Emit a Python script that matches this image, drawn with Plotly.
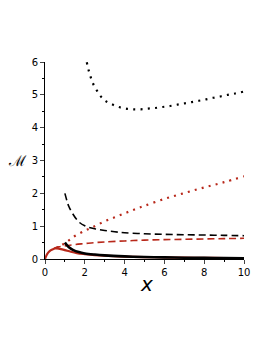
import plotly.graph_objects as go

RED = "#b8281a"

# black dotted
bdot_x = [2.10, 2.18, 2.28, 2.40, 2.58, 2.78, 3.05, 3.37, 3.70, 4.05, 4.42, 4.81, 5.18, 5.54, 5.91,
          6.28, 6.65, 7.02, 7.37, 7.74, 8.09, 8.46, 8.81, 9.18, 9.55, 10.0]
bdot_y = [5.99, 5.78, 5.57, 5.36, 5.16, 4.97, 4.81, 4.71, 4.63, 4.58, 4.56, 4.56, 4.58, 4.60, 4.63,
          4.66, 4.70, 4.74, 4.78, 4.82, 4.86, 4.91, 4.95, 5.00, 5.04, 5.10]

# red dotted
rdot_x = [0.55, 0.8, 1.0, 1.25, 1.5, 2.0, 2.5, 3.0, 3.5, 4.0, 4.5, 5.0, 6.0, 7.0, 8.0, 9.0, 10.0]
rdot_y = [0.33, 0.41, 0.48, 0.59, 0.70, 0.86, 1.00, 1.15, 1.27, 1.39, 1.51, 1.62, 1.83, 2.01, 2.18, 2.34, 2.52]

# black dashed
bdash_x = [1.0, 1.1, 1.2, 1.4, 1.7, 2.0, 2.5, 3.0, 3.5, 4.0, 5.0, 6.0, 7.0, 8.0, 9.0, 10.0]
bdash_y = [2.0, 1.78, 1.60, 1.37, 1.13, 1.01, 0.92, 0.87, 0.83, 0.80, 0.77, 0.75, 0.74, 0.73, 0.72, 0.71]

# red dashed
rdash_x = [0.45, 0.7, 1.0, 1.5, 2.0, 2.5, 3.0, 4.0, 5.0, 6.0, 7.0, 8.0, 9.0, 10.0]
rdash_y = [0.33, 0.37, 0.40, 0.44, 0.47, 0.50, 0.52, 0.55, 0.575, 0.59, 0.60, 0.61, 0.62, 0.63]

# black solid
bsol_x = [1.0, 1.1, 1.2, 1.4, 1.7, 2.0, 2.5, 3.0, 4.0, 5.0, 6.0, 7.0, 8.0, 9.0, 10.0]
bsol_y = [0.50, 0.42, 0.36, 0.28, 0.21, 0.17, 0.135, 0.11, 0.08, 0.06, 0.05, 0.04, 0.035, 0.03, 0.025]

# red solid
rsol_x = [0.0, 0.05, 0.1, 0.2, 0.3, 0.4, 0.5, 0.6, 0.8, 1.0, 1.3, 1.6, 2.0, 2.5, 3.0, 4.0, 5.0,
          6.0, 7.0, 8.0, 9.0, 10.0]
rsol_y = [0.0, 0.08, 0.14, 0.22, 0.27, 0.30, 0.32, 0.32, 0.30, 0.27, 0.22, 0.18, 0.15, 0.12, 0.10,
          0.075, 0.06, 0.05, 0.04, 0.035, 0.03, 0.025]

x_ticks = [0, 2, 4, 6, 8, 10]
y_ticks = [0, 1, 2, 3, 4, 5, 6]

fig = go.Figure()
fig.add_trace(go.Scatter(x=bdot_x, y=bdot_y, mode="lines", line=dict(color="black", width=2.2, dash="2px,5.3px", shape="spline")))
fig.add_trace(go.Scatter(x=rdot_x, y=rdot_y, mode="lines", line=dict(color=RED, width=2.2, dash="2px,5.2px", shape="spline")))
fig.add_trace(go.Scatter(x=bdash_x, y=bdash_y, mode="lines", line=dict(color="black", width=1.6, dash="7px,4px", shape="spline")))
fig.add_trace(go.Scatter(x=rdash_x, y=rdash_y, mode="lines", line=dict(color=RED, width=1.6, dash="7px,4px", shape="spline")))
fig.add_trace(go.Scatter(x=rsol_x, y=rsol_y, mode="lines", line=dict(color=RED, width=2.2, shape="spline")))
fig.add_trace(go.Scatter(x=bsol_x, y=bsol_y, mode="lines", line=dict(color="black", width=2.6, shape="spline")))

fig.update_layout(
    width=262, height=341,
    margin=dict(l=37, r=26, t=54, b=90),
    paper_bgcolor="white", plot_bgcolor="white",
    showlegend=False,
    font=dict(family="DejaVu Sans", size=10, color="black"),
)
fig.update_xaxes(range=[0, 10], tickvals=x_ticks, ticks="outside", ticklen=4, tickwidth=1,
                 showline=True, linecolor="black", linewidth=1, showgrid=False, zeroline=False,
                 minor=dict(dtick=1, ticks="outside", ticklen=2, tickcolor="black"))
fig.update_yaxes(range=[0, 6], tickvals=y_ticks, ticks="outside", ticklen=4, tickwidth=1,
                 showline=True, linecolor="black", linewidth=1, showgrid=False, zeroline=False,
                 minor=dict(dtick=0.5, ticks="outside", ticklen=2, tickcolor="black"))

fig.add_annotation(text="<i>x</i>", xref="paper", yref="paper", x=0.51, y=-0.20,
                   showarrow=False, font=dict(size=20, family="DejaVu Sans"))
fig.add_annotation(text="ℳ", xref="paper", yref="y", x=-0.08, y=3.0, xanchor="right",
                   showarrow=False, font=dict(size=15, family="DejaVu Serif"))

fig.write_html("out.html")
